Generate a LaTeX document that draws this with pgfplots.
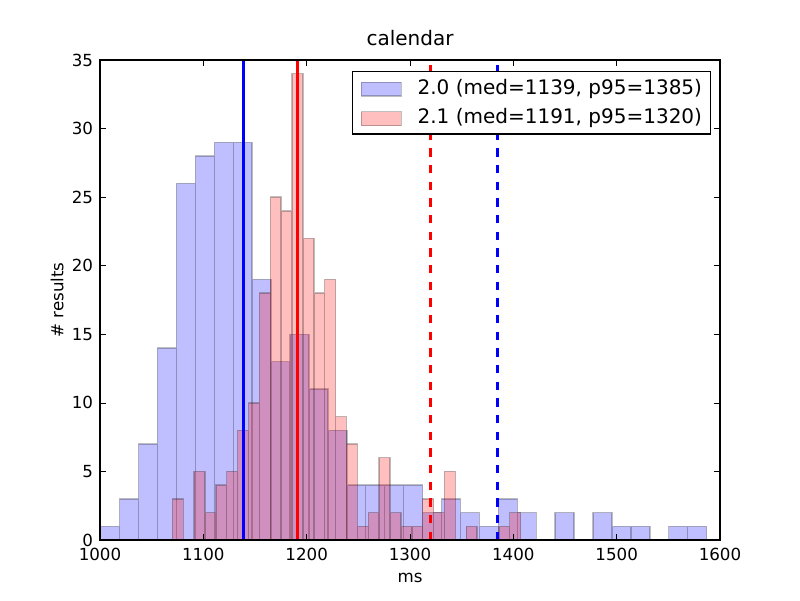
\documentclass[border=0pt]{standalone}
\usepackage{fontspec}
\setmainfont{DejaVu Sans}
\usepackage{pgfplots}
\pgfplotsset{compat=1.18}

\begin{document}
\begin{tikzpicture}
\path[use as bounding box] (0,0) rectangle (576pt,432pt);
\begin{axis}[
  at={(72pt,43.2pt)}, anchor=south west,
  width=446.4pt, height=345.6pt, scale only axis,
  xmin=1000, xmax=1600, ymin=0, ymax=35,
  xtick={1000,1100,1200,1300,1400,1500,1600},
  ytick={0,5,10,15,20,25,30,35},
  scaled ticks=false,
  /pgf/number format/assume math mode=true,
  /pgf/number format/1000 sep={},
  tick label style={font=\fontsize{12}{14}\selectfont},
  xticklabel style={anchor=north, inner sep=0pt, yshift=-5.3pt},
  yticklabel style={anchor=east, inner sep=0pt, xshift=-4.8pt},
  major tick length=4pt,
  every tick/.style={black, line width=0.5pt},
  axis line style={line width=1pt},
  axis on top,
  title={calendar},
  title style={at={(axis description cs:0.5,1.01389)}, anchor=base, inner sep=0pt, font=\fontsize{14.4}{17}\selectfont},
  xlabel={ms},
  xlabel style={at={(axis description cs:0.5,-0.08883)}, anchor=base, inner sep=0pt, font=\fontsize{12}{14}\selectfont},
  ylabel={\# results},
  ylabel style={at={(axis description cs:-0.05914,0.5)}, anchor=base, rotate=0, inner sep=0pt, font=\fontsize{12}{14}\selectfont},
  legend style={at={(1,1)}, anchor=north east, xshift=-6.5pt, yshift=-7.7pt,
    draw=black, line width=0.8pt, fill=white,
    font=\fontsize{14.4}{17}\selectfont,
    inner xsep=6pt, inner ysep=5.5pt, row sep=8.3pt, column sep=11.3pt,
    nodes={inner sep=0pt, anchor=base west}},
  legend cell align=left,
]
\addplot[ybar interval, fill=blue, fill opacity=0.25, draw=black, draw opacity=0.25, line width=1pt,
  legend image code/.code={\draw[fill=blue, fill opacity=0.25, draw=black, draw opacity=0.25, line width=1pt] (0pt,-1.5pt) rectangle (28.8pt,8.5pt);}]
coordinates {(1000.60,1) (1018.93,3) (1037.26,7) (1055.58,14) (1073.91,26) (1092.24,28) (1110.57,29) (1128.90,29) (1147.22,19) (1165.55,13) (1183.88,15) (1202.21,11) (1220.54,8) (1238.86,4) (1257.19,4) (1275.52,4) (1293.85,4) (1312.18,2) (1330.50,3) (1348.83,2) (1367.16,1) (1385.49,3) (1403.82,2) (1422.14,0) (1440.47,2) (1458.80,0) (1477.13,2) (1495.46,1) (1513.78,1) (1532.11,0) (1550.44,1) (1568.77,1) (1587.10,1)};
\addlegendentry{2.0 (med=1139, p95=1385)}
\addplot[ybar interval, fill=red, fill opacity=0.25, draw=black, draw opacity=0.25, line width=1pt,
  legend image code/.code={\draw[fill=red, fill opacity=0.25, draw=black, draw opacity=0.25, line width=1pt] (0pt,-1.5pt) rectangle (28.8pt,8.5pt);}]
coordinates {(1070.00,3) (1080.53,0) (1091.07,5) (1101.60,2) (1112.14,4) (1122.67,5) (1133.20,8) (1143.74,10) (1154.27,18) (1164.81,25) (1175.34,24) (1185.87,34) (1196.41,22) (1206.94,18) (1217.48,19) (1228.01,9) (1238.54,7) (1249.08,1) (1259.61,2) (1270.15,6) (1280.68,2) (1291.21,1) (1301.75,1) (1312.28,3) (1322.82,2) (1333.35,5) (1343.88,0) (1354.42,1) (1364.95,0) (1375.49,0) (1386.02,1) (1396.55,2) (1407.09,2)};
\addlegendentry{2.1 (med=1191, p95=1320)}
\addplot[blue, line width=2pt, forget plot] coordinates {(1139,0) (1139,35)};
\addplot[blue, line width=2pt, dash pattern=on 6pt off 6pt, forget plot] coordinates {(1385,0) (1385,35)};
\addplot[red, line width=2pt, forget plot] coordinates {(1191,0) (1191,35)};
\addplot[red, line width=2pt, dash pattern=on 6pt off 6pt, forget plot] coordinates {(1320,0) (1320,35)};
\end{axis}
\end{tikzpicture}
\end{document}
